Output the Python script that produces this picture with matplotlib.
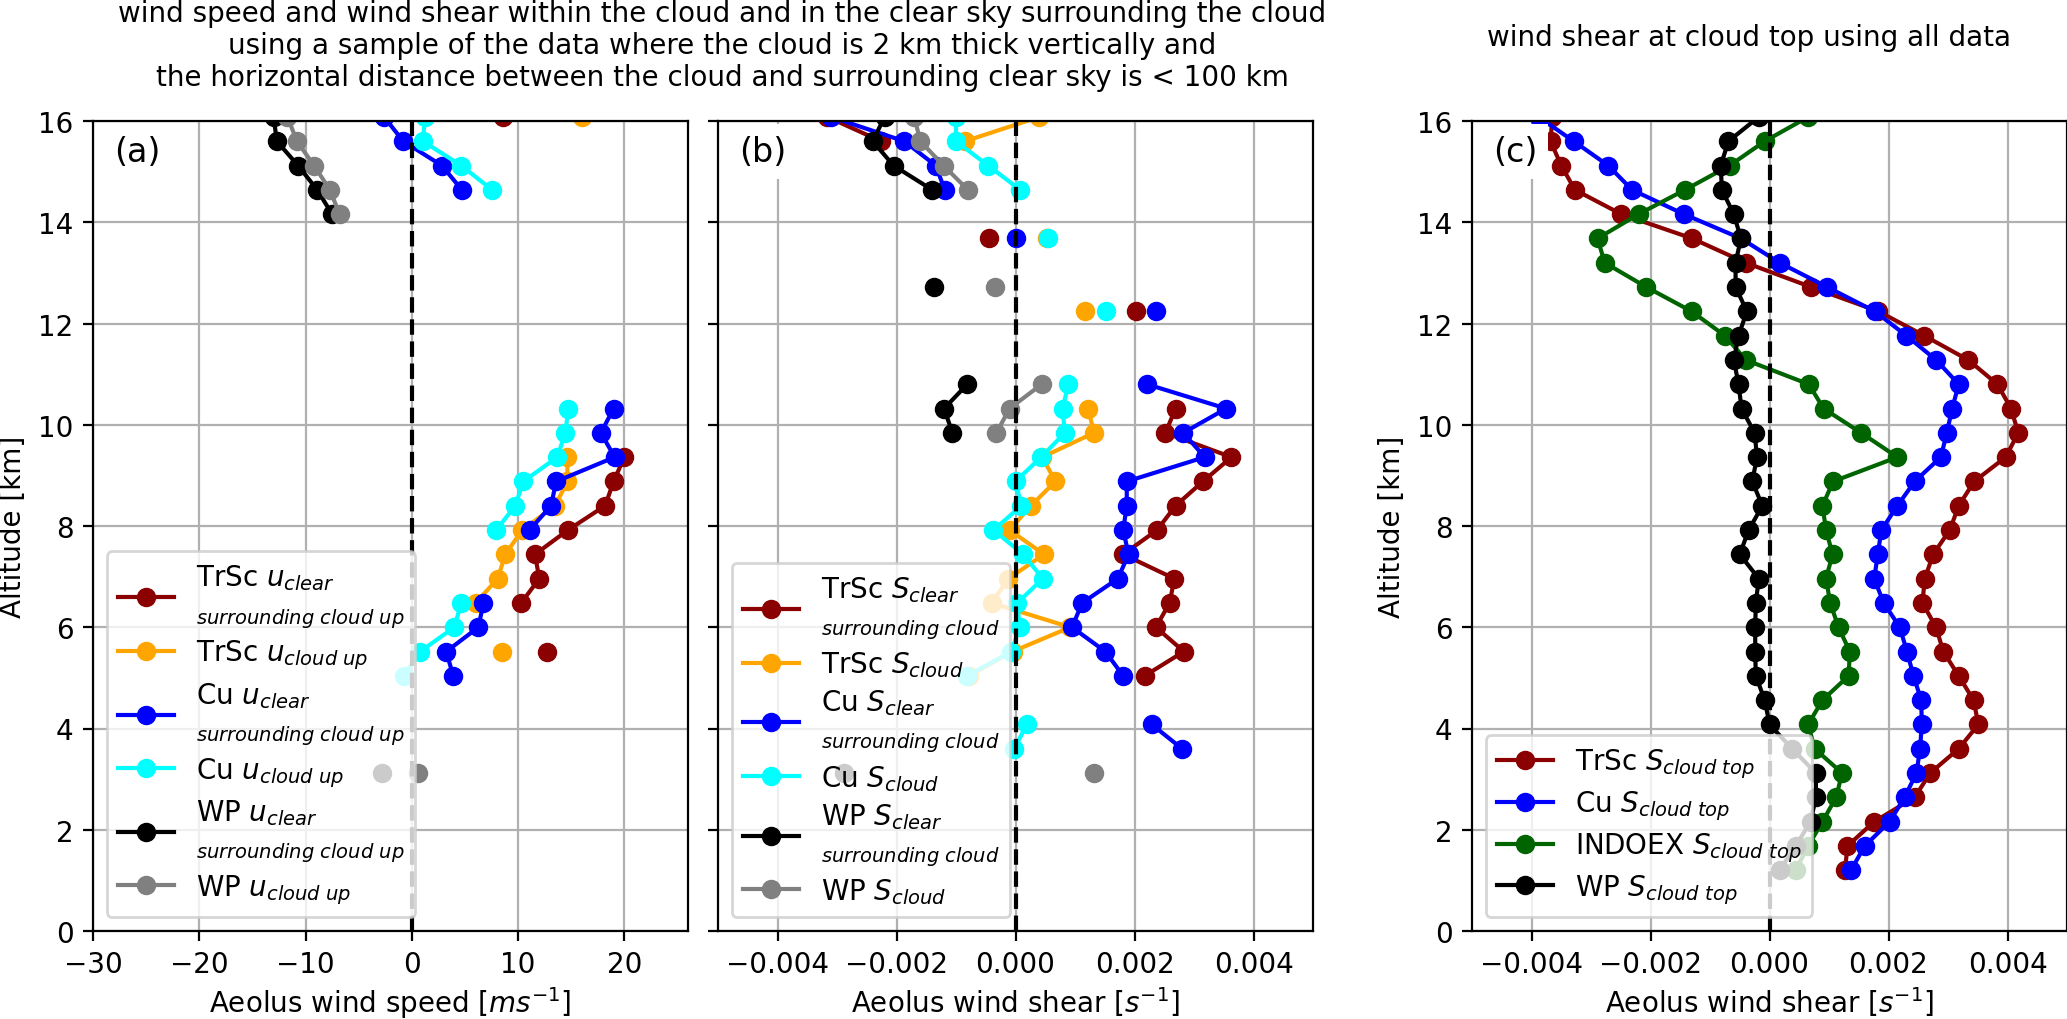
import matplotlib
matplotlib.use("Agg")
import matplotlib.pyplot as plt
import numpy as np

n = np.nan

# altitude levels [km]
alt = [1.2, 1.68, 2.16, 2.64, 3.12, 3.6, 4.08, 4.56, 5.04, 5.52, 6.0, 6.48, 6.96, 7.44, 7.92, 8.4,
       8.88, 9.36, 9.84, 10.32, 10.8, 11.28, 11.76, 12.24, 12.72, 13.2, 13.68, 14.16, 14.64, 15.12, 15.6, 16.08]

# (a) wind speed [m/s]
u_trsc_clear = [n, n, n, n, n, n, n, n, n, 12.7, n, 10.3, 12.0, 11.6, 14.7, 18.2,
                19.0, 20.0, n, n, n, n, n, n, n, n, n, n, n, n, n, 8.6]
u_trsc_cloud = [n, n, n, n, n, n, n, n, n, 8.5, n, 6.0, 8.1, 8.8, 10.4, 13.5,
                14.65, 14.65, n, n, n, n, n, n, n, n, n, n, n, n, n, 16.0]
u_cu_clear = [n, n, n, n, n, n, n, n, 3.9, 3.25, 6.27, 6.75, n, n, 11.1, 13.1,
              13.6, 19.1, 17.8, 19.0, n, n, n, n, n, n, n, n, 4.72, 2.83, -0.8, -2.6]
u_cu_cloud = [n, n, n, n, n, n, n, n, -0.75, 0.8, 4.0, 4.67, n, n, 7.94, 9.75,
              10.5, 13.7, 14.45, 14.75, n, n, n, n, n, n, n, n, 7.56, 4.66, 1.04, 1.26]
u_wp_clear = [n, n, n, n, -2.8, n, n, n, n, n, n, n, n, n, n, n,
              n, n, n, n, n, n, n, n, n, n, n, -7.5, -8.9, -10.7, -12.7, -13.0]
u_wp_cloud = [n, n, n, n, 0.6, n, n, n, n, n, n, n, n, n, n, n,
              n, n, n, n, n, n, n, n, n, n, n, -6.8, -7.7, -9.2, -10.8, -11.7]

# (b) wind shear [1/s]
s_trsc_clear = [n, n, n, n, n, n, n, n, 0.00217, 0.00283, 0.00236, 0.00259, 0.00267, 0.00181, 0.00238, 0.00269,
                0.00315, 0.00363, 0.00252, 0.00269, n, n, n, 0.00203, n, n, -0.00044, n, n, n, -0.00226, -0.00316]
s_trsc_cloud = [n, n, n, n, n, n, n, n, -0.00078, -0.00005, 0.00092, -0.0004, -0.00012, 0.00048, -0.0001, 0.00026,
                0.00067, 0.00045, 0.00132, 0.00122, n, n, n, 0.00117, n, n, 0.00053, n, n, n, -0.00085, 0.0004]
s_cu_clear = [n, n, n, n, n, 0.0028, 0.00229, n, 0.00181, 0.00151, 0.00095, 0.00112, 0.00172, 0.0019, 0.00181, 0.00187,
              0.00187, 0.00318, 0.00282, 0.00354, 0.00221, n, n, 0.00236, n, n, 0.0, n, -0.00119, -0.00134, -0.00187, -0.0031]
s_cu_cloud = [n, n, n, n, n, -0.00002, 0.00019, n, -0.00081, -0.00007, 0.00007, 0.00003, 0.00046, 0.00013, -0.00037, 0.0001,
              0.0, 0.00043, 0.00083, 0.00079, 0.00089, n, n, 0.00152, n, n, 0.00055, n, 0.00008, -0.00046, -0.001, -0.001]
s_wp_clear = [n, n, n, n, -0.00289, n, n, n, n, n, n, n, n, n, n, n,
              n, n, -0.00106, -0.0012, -0.00081, n, n, n, -0.00137, n, n, n, -0.0014, -0.00205, -0.0024, -0.0022]
s_wp_cloud = [n, n, n, n, 0.00132, n, n, n, n, n, n, n, n, n, n, n,
              n, n, -0.00032, -0.0001, 0.00044, n, n, n, -0.00035, n, n, n, -0.0008, -0.00121, -0.0016, -0.0017]

# (c) wind shear at cloud top [1/s]
top_trsc = [0.00127, 0.00131, 0.00176, 0.00244, 0.0027, 0.00318, 0.00351, 0.00343, 0.00318, 0.00292, 0.0028, 0.00257,
            0.00261, 0.00275, 0.00303, 0.00318, 0.00344, 0.00397, 0.00418, 0.00406, 0.00383, 0.00334, 0.0026, 0.00183,
            0.0007, -0.0004, -0.0013, -0.00249, -0.00327, -0.0035, -0.00368, -0.00365]
top_cu = [0.00137, 0.0016, 0.00202, 0.00227, 0.00247, 0.00253, 0.00256, 0.00255, 0.00242, 0.00231, 0.00219, 0.00192,
          0.00176, 0.00182, 0.00188, 0.00215, 0.00244, 0.00288, 0.00298, 0.00307, 0.00318, 0.0028, 0.0023, 0.00177,
          0.00097, 0.00017, -0.00048, -0.00144, -0.00231, -0.00271, -0.00329, -0.00388]
top_indoex = [0.00044, 0.00065, 0.00089, 0.00112, 0.00122, 0.00076, 0.00065, 0.00089, 0.00133, 0.00135, 0.00116, 0.00102,
              0.00095, 0.00106, 0.00095, 0.00089, 0.00107, 0.00215, 0.00154, 0.00091, 0.00066, -0.0004, -0.00075, -0.00131,
              -0.00207, -0.00277, -0.00289, -0.0022, -0.00142, -0.00067, -0.00008, 0.00065]
top_wp = [0.00017, 0.00044, 0.00069, 0.00078, 0.00078, 0.00038, 0.0, -0.00008, -0.00023, -0.00024, -0.00024, -0.00023,
          -0.00018, -0.0005, -0.00035, -0.00012, -0.00029, -0.00021, -0.00025, -0.00047, -0.00052, -0.0006, -0.00052, -0.00038,
          -0.00057, -0.00057, -0.00048, -0.0006, -0.0008, -0.00082, -0.00069, -0.00018]

plt.rcParams['font.size'] = 10

fig = plt.figure(figsize=(10.335, 5.1), dpi=200)
W, H = 2067, 1020
bot, hgt = 1 - 932 / H, 810 / H
wid = 595 / W
ax_a = fig.add_axes([93 / W, bot, wid, hgt])
ax_b = fig.add_axes([718 / W, bot, wid, hgt])
ax_c = fig.add_axes([1472 / W, bot, wid, hgt])

# panel a
sub_a = '\n$_{surrounding\\ cloud\\ up}$'
for vals, col, lab in [(u_trsc_clear, 'darkred', 'TrSc $u_{clear}$' + sub_a),
                       (u_trsc_cloud, 'orange', 'TrSc $u_{cloud\\ up}$'),
                       (u_cu_clear, 'blue', 'Cu $u_{clear}$' + sub_a),
                       (u_cu_cloud, 'cyan', 'Cu $u_{cloud\\ up}$'),
                       (u_wp_clear, 'black', 'WP $u_{clear}$' + sub_a),
                       (u_wp_cloud, 'gray', 'WP $u_{cloud\\ up}$')]:
    ax_a.plot(vals, alt, '-o', color=col, label=lab)
ax_a.axvline(0, color='k', ls='--')
ax_a.set_xlim(-30, 26)
ax_a.set_xlabel('Aeolus wind speed [$ms^{-1}$]', labelpad=2)
ax_a.set_ylabel('Altitude [km]')

# panel b
sub_b = '\n$_{surrounding\\ cloud}$'
for vals, col, lab in [(s_trsc_clear, 'darkred', 'TrSc $S_{clear}$' + sub_b),
                       (s_trsc_cloud, 'orange', 'TrSc $S_{cloud}$'),
                       (s_cu_clear, 'blue', 'Cu $S_{clear}$' + sub_b),
                       (s_cu_cloud, 'cyan', 'Cu $S_{cloud}$'),
                       (s_wp_clear, 'black', 'WP $S_{clear}$' + sub_b),
                       (s_wp_cloud, 'gray', 'WP $S_{cloud}$')]:
    ax_b.plot(vals, alt, '-o', color=col, label=lab)
ax_b.axvline(0, color='k', ls='--')
ax_b.set_xlim(-0.005, 0.005)
ax_b.set_xlabel('Aeolus wind shear [$s^{-1}$]', labelpad=2)
ax_b.tick_params(labelleft=False)

# panel c
for vals, col, lab in [(top_trsc, 'darkred', 'TrSc $S_{cloud\\ top}$'),
                       (top_cu, 'blue', 'Cu $S_{cloud\\ top}$'),
                       (top_indoex, 'darkgreen', 'INDOEX $S_{cloud\\ top}$'),
                       (top_wp, 'black', 'WP $S_{cloud\\ top}$')]:
    ax_c.plot(vals, alt, '-o', color=col, label=lab)
ax_c.axvline(0, color='k', ls='--')
ax_c.set_xlim(-0.005, 0.005)
ax_c.set_xlabel('Aeolus wind shear [$s^{-1}$]', labelpad=2)
ax_c.set_ylabel('Altitude [km]')

for ax, tag in [(ax_a, '(a)'), (ax_b, '(b)'), (ax_c, '(c)')]:
    ax.set_ylim(0, 16)
    ax.set_yticks(np.arange(0, 17, 2))
    ax.grid(True)
    ax.text(0.035, 0.962, tag, transform=ax.transAxes, fontsize=12, ha='left', va='center',
            bbox=dict(facecolor='white', edgecolor='none'))
    ax.legend(loc='lower left', labelspacing=0.3)

fig.text(722 / W, 1 - 46 / H,
         'wind speed and wind shear within the cloud and in the clear sky surrounding the cloud\n'
         'using a sample of the data where the cloud is 2 km thick vertically and\n'
         'the horizontal distance between the cloud and surrounding clear sky is < 100 km',
         ha='center', va='center')
fig.text(1749 / W, 1 - 38 / H, 'wind shear at cloud top using all data', ha='center', va='center')

fig.savefig('out.png', dpi=200)
